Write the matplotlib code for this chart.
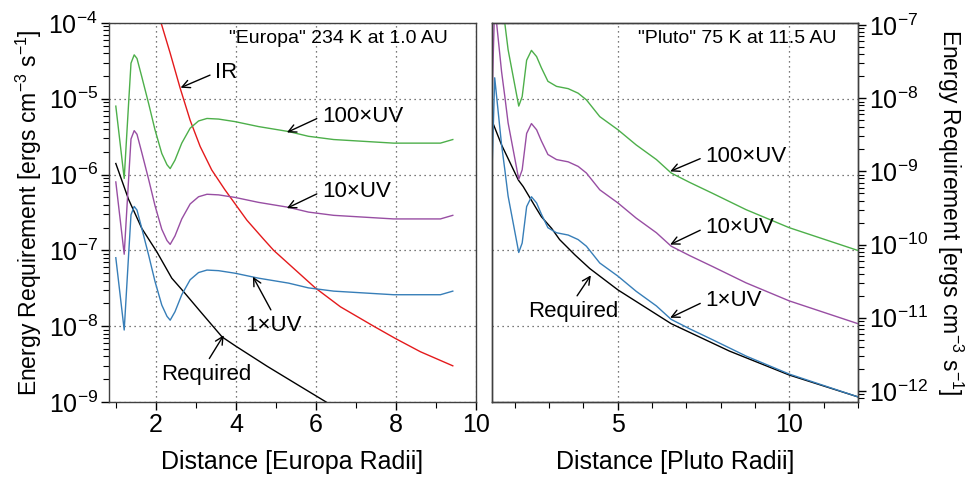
import numpy as np
import matplotlib
matplotlib.use("Agg")
import matplotlib.pyplot as plt
from matplotlib.ticker import LogLocator, MultipleLocator, NullFormatter

plt.rcParams['font.family'] = ['Liberation Sans', 'DejaVu Sans']
plt.rcParams['mathtext.fontset'] = 'custom'
plt.rcParams['mathtext.rm'] = 'Liberation Sans'
plt.rcParams['mathtext.it'] = 'Liberation Sans:italic'
plt.rcParams['mathtext.bf'] = 'Liberation Sans:bold'

# ---- Europa panel (distance in Europa radii) ----
europa_req_x = [0.99, 1.31, 1.64, 2.02, 2.39, 2.65, 3.11, 3.65, 3.98, 4.78, 5.61, 6.32, 7.0]
europa_req = [1.4e-6, 4.7e-7, 1.95e-7, 9.5e-8, 4.3e-8, 3.0e-8, 1.55e-8, 7.2e-9,
              5.5e-9, 2.95e-9, 1.6e-9, 9.5e-10, 6.3e-10]

europa_ir_x = [2.10, 2.35, 2.60, 2.85, 3.10, 3.39, 3.72, 4.27, 4.69, 4.94, 5.98,
               6.61, 7.44, 7.98, 8.61, 9.42]
europa_ir = [1.1e-4, 4.0e-5, 1.38e-5, 5.2e-6, 2.35e-6, 1.15e-6, 6.3e-7, 2.5e-7,
             1.4e-7, 1.0e-7, 3.2e-8, 1.8e-8, 1.0e-8, 6.9e-9, 4.6e-9, 3.0e-9]

# 1xUV heating; the 10x and 100x curves are the same values scaled
europa_uv_x = [0.99, 1.20, 1.31, 1.37, 1.45, 1.52, 1.64, 1.81, 1.97, 2.14, 2.27, 2.35,
               2.47, 2.64, 2.85, 3.06, 3.27, 3.56, 3.97, 4.56, 5.31, 5.81, 6.44,
               7.94, 8.61, 9.11, 9.42]
europa_uv = [8.0e-8, 8.9e-9, 8.7e-8, 2.95e-7, 3.8e-7, 3.4e-7, 1.95e-7, 8.7e-8, 3.9e-8,
             1.9e-8, 1.35e-8, 1.2e-8, 1.55e-8, 2.6e-8, 4.1e-8, 5.1e-8, 5.5e-8, 5.4e-8,
             5.0e-8, 4.3e-8, 3.7e-8, 3.2e-8, 2.9e-8, 2.6e-8, 2.6e-8, 2.6e-8, 2.9e-8]

# ---- Pluto panel (distance in Pluto radii) ----
pluto_req_x = [1.35, 1.62, 2.11, 2.25, 2.60, 2.78, 3.08, 3.31, 3.76, 4.19, 5.01,
               6.56, 8.26, 10.0, 12.0]
pluto_req = [4.8e-9, 2.3e-9, 7.6e-10, 6.2e-10, 3.3e-10, 2.4e-10, 1.66e-10, 1.17e-10,
             7.2e-11, 4.7e-11, 2.4e-11, 8.3e-12, 3.5e-12, 1.65e-12, 8.3e-13]

pluto_uv_x = [1.35, 1.42, 1.62, 1.715, 1.81, 1.96, 2.12, 2.22, 2.35, 2.49, 2.64, 2.78,
              2.97, 3.22, 3.56, 3.85, 4.09, 4.48, 5.01, 5.54, 6.13, 6.56, 7.09, 7.77,
              8.74, 10.0, 12.0]
pluto_uv = [1.4e-9, 1.9e-8, 2.3e-9, 1.05e-9, 4.6e-10, 1.95e-10, 7.8e-11, 1.05e-10,
            3.3e-10, 4.5e-10, 3.7e-10, 2.6e-10, 1.7e-10, 1.45e-10, 1.35e-10, 1.17e-10,
            9.5e-11, 5.6e-11, 3.7e-11, 2.3e-11, 1.45e-11, 9.5e-12, 7.1e-12, 5.0e-12,
            3.0e-12, 1.7e-12, 8.3e-13]

uv_factors = [1, 10, 100]
uv_colors = ['#377eb8', '#984ea3', '#4daf4a']
europa_decades = [1e-9, 1e-8, 1e-7, 1e-6, 1e-5, 1e-4]
pluto_decades = [1e-12, 1e-11, 1e-10, 1e-9, 1e-8, 1e-7]
ylabel = 'Energy Requirement [ergs cm$^{-3}$ s$^{-1}$]'

grid_kw = dict(linestyle=(0, (1, 3)), color='0.3', linewidth=0.9)
arrow_kw = dict(arrowstyle='->', color='black', lw=1.0, shrinkA=2, shrinkB=0,
                mutation_scale=14)


def style_axes(ax):
    for s in ax.spines.values():
        s.set_color('0.25')
        s.set_linewidth(1.0)
    ax.tick_params(which='major', direction='out', length=6, width=1, labelsize=18, pad=2)
    ax.tick_params(which='minor', direction='out', length=4, width=0.8)


def note(ax, text, tip, pos, ha='left', va='center', rel=(0, 0.5)):
    kw = dict(arrow_kw)
    kw['relpos'] = rel
    ax.annotate(text, xy=tip, xytext=pos, ha=ha, va=va, fontsize=16, arrowprops=kw)


fig = plt.figure(figsize=(9.69, 4.79), dpi=100)

# left panel
ax1 = fig.add_axes([0.1125, 0.1608, 0.3787, 0.7912])
ax1.set_yscale('log')
ax1.plot(europa_req_x, europa_req, color='black', lw=1.0)
ax1.plot(europa_ir_x, europa_ir, color='#e41a1c', lw=1.0)
for f, c in zip(uv_factors, uv_colors):
    ax1.plot(europa_uv_x, np.array(europa_uv) * f, color=c, lw=1.0)
ax1.set_xlim(0.82, 10)
ax1.set_yticks(europa_decades)
ax1.set_ylim(1e-9, 1e-4)
ax1.xaxis.set_major_locator(MultipleLocator(2))
ax1.xaxis.set_minor_locator(MultipleLocator(1))
ax1.yaxis.set_minor_locator(LogLocator(base=10, subs=np.arange(2, 10)))
ax1.yaxis.set_minor_formatter(NullFormatter())
ax1.grid(True, which='major', **grid_kw)
style_axes(ax1)
ax1.set_xlabel('Distance [Europa Radii]', fontsize=18, labelpad=9)
ax1.set_ylabel(ylabel, fontsize=16.5, labelpad=3)
ax1.text(0.924, 0.959, '"Europa" 234 K at 1.0 AU', ha='right', va='center',
         fontsize=14, transform=ax1.transAxes)

note(ax1, 'IR', (2.61, 1.4e-5), (3.48, 2.2e-5))
note(ax1, '100\u00d7UV', (5.27, 3.6e-6), (6.15, 5.9e-6))
note(ax1, '10\u00d7UV', (5.27, 3.6e-7), (6.15, 6.0e-7))
note(ax1, '1\u00d7UV', (4.42, 4.5e-8), (4.94, 1.4e-8), ha='center', va='top', rel=(0.5, 1))
note(ax1, 'Required', (3.69, 7.6e-9), (3.25, 3.2e-9), ha='center', va='top', rel=(0.5, 1))

# right panel: grid comes from a background axes with the left panel's decades
ax2g = fig.add_axes([0.5077, 0.1608, 0.3777, 0.7912])
ax2g.set_yscale('log')
ax2g.set_yticks(europa_decades)
ax2g.set_ylim(1e-9, 1e-4)
ax2g.set_xlim(1.34, 12)
ax2g.xaxis.set_major_locator(MultipleLocator(5))
ax2g.xaxis.set_minor_locator(MultipleLocator(1))
ax2g.grid(True, which='major', **grid_kw)
style_axes(ax2g)
ax2g.set_xlabel('Distance [Pluto Radii]', fontsize=18, labelpad=9)

ax2 = ax2g.twinx()
ax2.set_yscale('log')
ax2.plot(pluto_req_x, pluto_req, color='black', lw=1.0)
for f, c in zip(uv_factors, uv_colors):
    ax2.plot(pluto_uv_x, np.array(pluto_uv) * f, color=c, lw=1.0)
ax2.set_yticks(pluto_decades)
ax2.set_ylim(7.07e-13, 1.065e-7)
ax2.yaxis.set_minor_locator(LogLocator(base=10, subs=np.arange(2, 10)))
ax2.yaxis.set_minor_formatter(NullFormatter())
style_axes(ax2)
ax2g.tick_params(axis='y', which='both', left=False, labelleft=False)
ax2.set_ylabel(ylabel, fontsize=16.5, rotation=270, va='bottom', labelpad=5)
ax2.text(0.942, 0.959, '"Pluto" 75 K at 11.5 AU', ha='right', va='center',
         fontsize=14, transform=ax2.transAxes)

note(ax2, '100\u00d7UV', (6.53, 1.0e-9), (7.56, 1.6e-9))
note(ax2, '10\u00d7UV', (6.53, 1.0e-10), (7.56, 1.7e-10))
note(ax2, '1\u00d7UV', (6.53, 1.0e-11), (7.56, 1.7e-11))
note(ax2, 'Required', (4.22, 3.8e-11), (3.72, 1.7e-11), ha='center', va='top', rel=(0.5, 1))

fig.savefig('out.png', dpi=100)
